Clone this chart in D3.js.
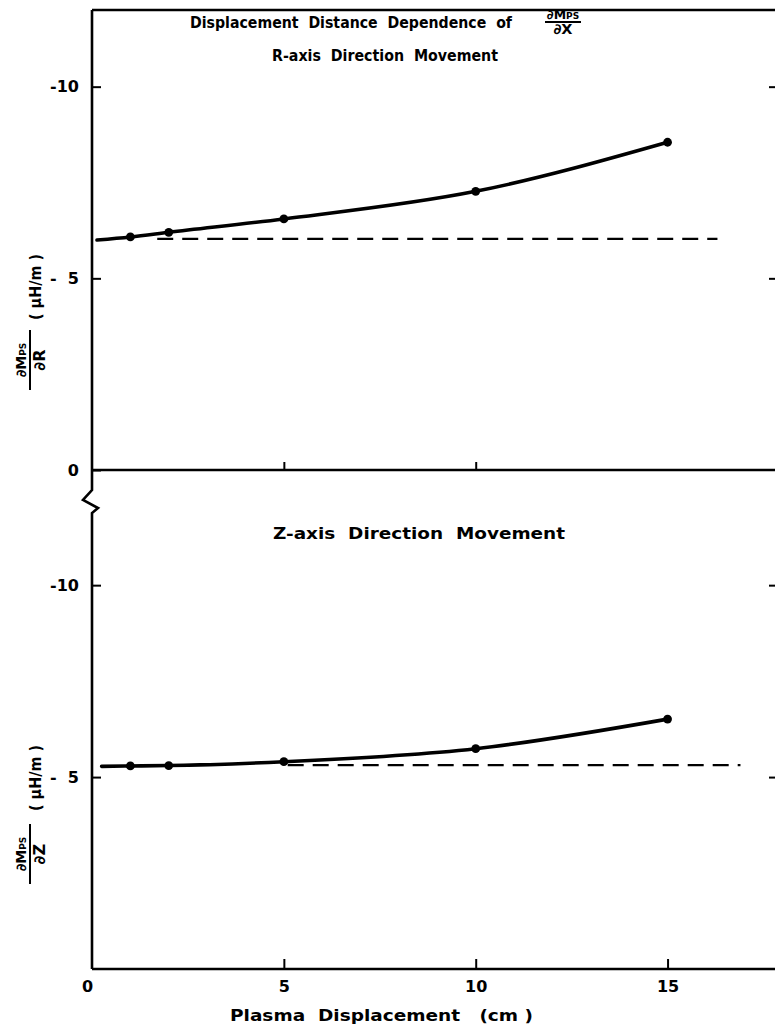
<!DOCTYPE html>
<html>
<head>
<meta charset="utf-8">
<script src="https://cdn.jsdelivr.net/npm/d3@7"></script>
<style>
  html, body { margin: 0; padding: 0; background: #fff; }
  svg { display: block; }
  text { font-family: "DejaVu Sans", sans-serif; fill: #000; white-space: pre; }
</style>
</head>
<body>
<svg id="chart" width="775" height="1031"></svg>
<script>
// ---------------- data ----------------
const displacement = [1, 2, 5, 10, 15];            // cm
const dMdR = [6.08, 6.20, 6.55, 7.27, 8.55];       // -dM/dR (µH/m), R-axis movement
const dMdZ = [5.29, 5.30, 5.40, 5.74, 6.51];       // -dM/dZ (µH/m), Z-axis movement
const curveStartR = [0.13, 6.00];                  // where the drawn R curve begins
const curveStartZ = [0.25, 5.28];                  // where the drawn Z curve begins
const refR = { x: [1.7, 16.3], y: 6.03 };          // dashed reference (R)
const refZ = { x: [5.1, 16.9], y: 5.31 };          // dashed reference (Z)
const xTicks = [0, 5, 10, 15];
const xTickLabels = ["0", "5", "10", "15"];
const yTicksTop = [0, 5, 10];
const yTicksBot = [5, 10];
const yTickLabel = v => v === 0 ? "0" : (v === 5 ? "-  5" : "-10");

// ---------------- layout ----------------
const svg = d3.select("#chart");
const x = d3.scaleLinear().domain([0, 17.8]).range([92, 775]);
const yTop = d3.scaleLinear().domain([0, 12]).range([470, 10]);
const yBot = d3.scaleLinear().domain([0, 13]).range([969, 470]);

const AX = 2.6; // axis stroke width

// frame lines
svg.append("line").attr("x1", x(0)).attr("x2", 775).attr("y1", yTop(12)).attr("y2", yTop(12))
  .attr("stroke", "#000").attr("stroke-width", AX);
svg.append("line").attr("x1", x(0)).attr("x2", 775).attr("y1", yTop(0)).attr("y2", yTop(0))
  .attr("stroke", "#000").attr("stroke-width", AX);
svg.append("line").attr("x1", x(0)).attr("x2", 775).attr("y1", yBot(0)).attr("y2", yBot(0))
  .attr("stroke", "#000").attr("stroke-width", AX);

// left axis with break
const brk = yTop(0) + 20;
const leftPath = d3.path();
leftPath.moveTo(x(0), yTop(12));
leftPath.lineTo(x(0), brk);
leftPath.lineTo(x(0) - 9, brk + 10);
leftPath.lineTo(x(0) + 6, brk + 18);
leftPath.lineTo(x(0), brk + 23);
leftPath.lineTo(x(0), yBot(0));
svg.append("path").attr("d", leftPath.toString()).attr("fill", "none")
  .attr("stroke", "#000").attr("stroke-width", AX).attr("stroke-linejoin", "miter");

function styleAxis(g) {
  g.select(".domain").remove();
  g.selectAll(".tick line").attr("stroke", "#000").attr("stroke-width", 2);
  g.selectAll(".tick text").attr("font-size", 16).attr("font-weight", "bold")
    .style("font-family", "'DejaVu Sans', sans-serif");
}
svg.append("g").attr("transform", `translate(${x(0)},0)`)
  .call(d3.axisLeft(yTop).tickValues(yTicksTop).tickSizeInner(-9).tickSizeOuter(0)
    .tickPadding(13).tickFormat(yTickLabel))
  .call(styleAxis);
svg.append("g").attr("transform", `translate(${x(0)},0)`)
  .call(d3.axisLeft(yBot).tickValues(yTicksBot).tickSizeInner(-9).tickSizeOuter(0)
    .tickPadding(13).tickFormat(yTickLabel))
  .call(styleAxis);
// right-side ticks
[yTop, yBot].forEach(sc => {
  svg.append("g").attr("transform", `translate(775,0)`)
    .call(d3.axisRight(sc).tickValues([5, 10]).tickSizeInner(-6).tickSizeOuter(0).tickFormat(""))
    .call(styleAxis);
});

// x axis (bottom) - ticks point up
svg.append("g").attr("transform", `translate(0,${yBot(0)})`)
  .call(d3.axisBottom(x).tickValues(xTicks).tickSizeInner(-10).tickSizeOuter(0)
    .tickPadding(12).tickFormat((d, i) => xTickLabels[i]))
  .call(styleAxis)
  .call(g => g.selectAll(".tick line").filter(d => d === 0).remove())
  .call(g => g.selectAll(".tick").filter(d => d === 0).select("text").attr("dx", -5));
// small ticks on the mid axis
svg.append("g").attr("transform", `translate(0,${yTop(0)})`)
  .call(d3.axisBottom(x).tickValues([5, 10]).tickSizeInner(-8).tickSizeOuter(0).tickFormat(""))
  .call(styleAxis);

// ---------------- data marks ----------------
function drawSeries(sc, start, vals, ref) {
  const pts = [start].concat(displacement.map((d, i) => [d, vals[i]]));
  const line = d3.line().x(d => x(d[0])).y(d => sc(d[1])).curve(d3.curveMonotoneX);
  svg.append("path").datum(pts).attr("d", line).attr("fill", "none")
    .attr("stroke", "#000").attr("stroke-width", 3.6).attr("stroke-linecap", "round");
  svg.append("g").selectAll("circle").data(displacement).join("circle")
    .attr("cx", d => x(d)).attr("cy", (d, i) => sc(vals[i])).attr("r", 4.4).attr("fill", "#000");
  svg.append("line").attr("x1", x(ref.x[0])).attr("x2", x(ref.x[1]))
    .attr("y1", sc(ref.y)).attr("y2", sc(ref.y))
    .attr("stroke", "#000").attr("stroke-width", 2.2).attr("stroke-dasharray", "16,9");
}
drawSeries(yTop, curveStartR, dMdR, refR);
drawSeries(yBot, curveStartZ, dMdZ, refZ);

// ---------------- texts ----------------
function txt(s, xx, yy, size, len, anchor) {
  const t = svg.append("text").attr("x", xx).attr("y", yy).attr("font-size", size)
    .attr("font-weight", "bold").attr("text-anchor", anchor || "start").text(s);
  if (len) t.attr("textLength", len).attr("lengthAdjust", "spacingAndGlyphs");
  return t;
}
txt("Displacement  Distance  Dependence  of", 190, 28, 15.5, 322);
// fraction dM_PS / dX in title
const fx = 563;
svg.append("text").attr("x", fx).attr("y", 19).attr("font-size", 12.5).attr("font-weight", "bold")
  .attr("text-anchor", "middle").call(t => {
    t.append("tspan").text("∂M");
    t.append("tspan").attr("font-size", 9).text("PS");
  });
svg.append("line").attr("x1", fx - 18).attr("x2", fx + 18).attr("y1", 22).attr("y2", 22)
  .attr("stroke", "#000").attr("stroke-width", 1.8);
txt("∂X", fx, 34, 14.5, null, "middle");

txt("R-axis  Direction  Movement", 272, 61, 15.5, 226);
txt("Z-axis  Direction  Movement", 273, 539, 15.5, 292);
txt("Plasma  Displacement   (cm )", 230, 1021, 15.5, 303);

// rotated y labels
function yLabel(cy, cyUnit, den) {
  const g = svg.append("g").attr("transform", "rotate(-90)");
  g.append("text").attr("x", -cy).attr("y", 26).attr("font-size", 14).attr("font-weight", "bold")
    .attr("text-anchor", "middle").call(t => {
      t.append("tspan").text("∂M");
      t.append("tspan").attr("font-size", 9).text("PS");
    });
  g.append("line").attr("x1", -cy - 30).attr("x2", -cy + 30).attr("y1", 30).attr("y2", 30)
    .attr("stroke", "#000").attr("stroke-width", 2);
  g.append("text").attr("x", -cy).attr("y", 45).attr("font-size", 16).attr("font-weight", "bold")
    .attr("text-anchor", "middle").text(den);
  g.append("text").attr("x", -cyUnit).attr("y", 41).attr("font-size", 16).attr("font-weight", "bold")
    .attr("text-anchor", "middle").attr("textLength", 66).attr("lengthAdjust", "spacingAndGlyphs")
    .text("( μH/m )");
}
yLabel(360, 287, "∂R");
yLabel(854, 778, "∂Z");
</script>
</body>
</html>
